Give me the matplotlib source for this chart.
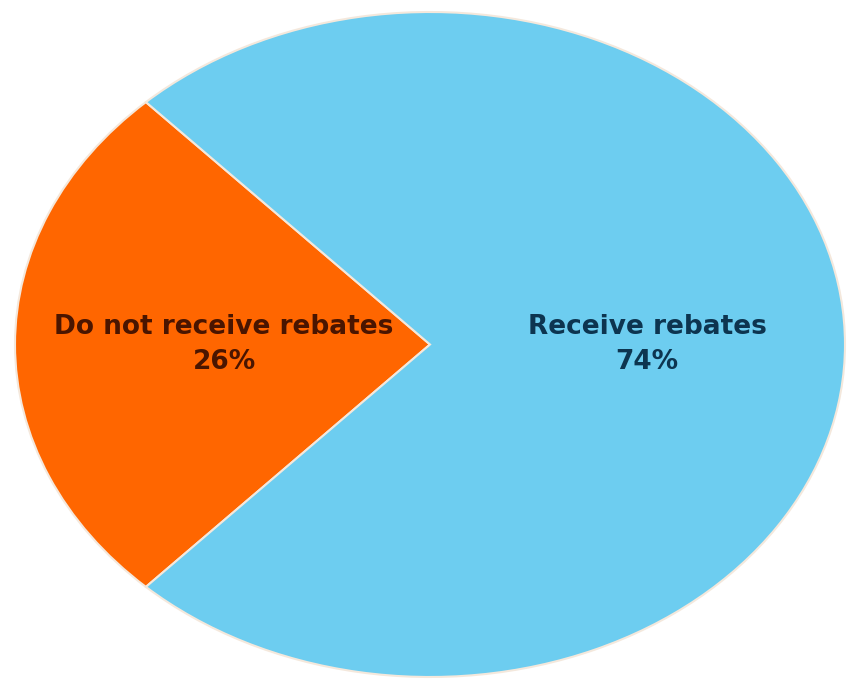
import matplotlib
matplotlib.use("Agg")
import matplotlib.pyplot as plt

categories = ["Do not receive rebates", "Receive rebates"]
values = [26, 74]
colors = ["#FF6600", "#6DCDF0"]
text_colors = ["#4A1500", "#0D3550"]

fig = plt.figure(figsize=(8.49, 6.84), dpi=100)
ax = fig.add_axes([15/849, 7/684, 830/849, 665/684])

start = 180 - values[0] / sum(values) * 360 / 2
wedges, _ = ax.pie(values, colors=colors, startangle=start, counterclock=True,
                   wedgeprops=dict(edgecolor="#F4E8DC", linewidth=1.5), radius=1)
ax.set_aspect("auto")
ax.set_xlim(-1.0, 1.0)
ax.set_ylim(-1.0, 1.0)
ax.axis("off")

label_pos = [(-0.496, 0.0), (0.523, 0.0)]
for cat, v, (x, y), tc in zip(categories, values, label_pos, text_colors):
    ax.text(x, y, f"{cat}\n{v}%", ha="center", va="center", fontsize=19,
            fontweight="bold", color=tc, family="DejaVu Sans", linespacing=1.45)

fig.savefig("out.png", dpi=100)
